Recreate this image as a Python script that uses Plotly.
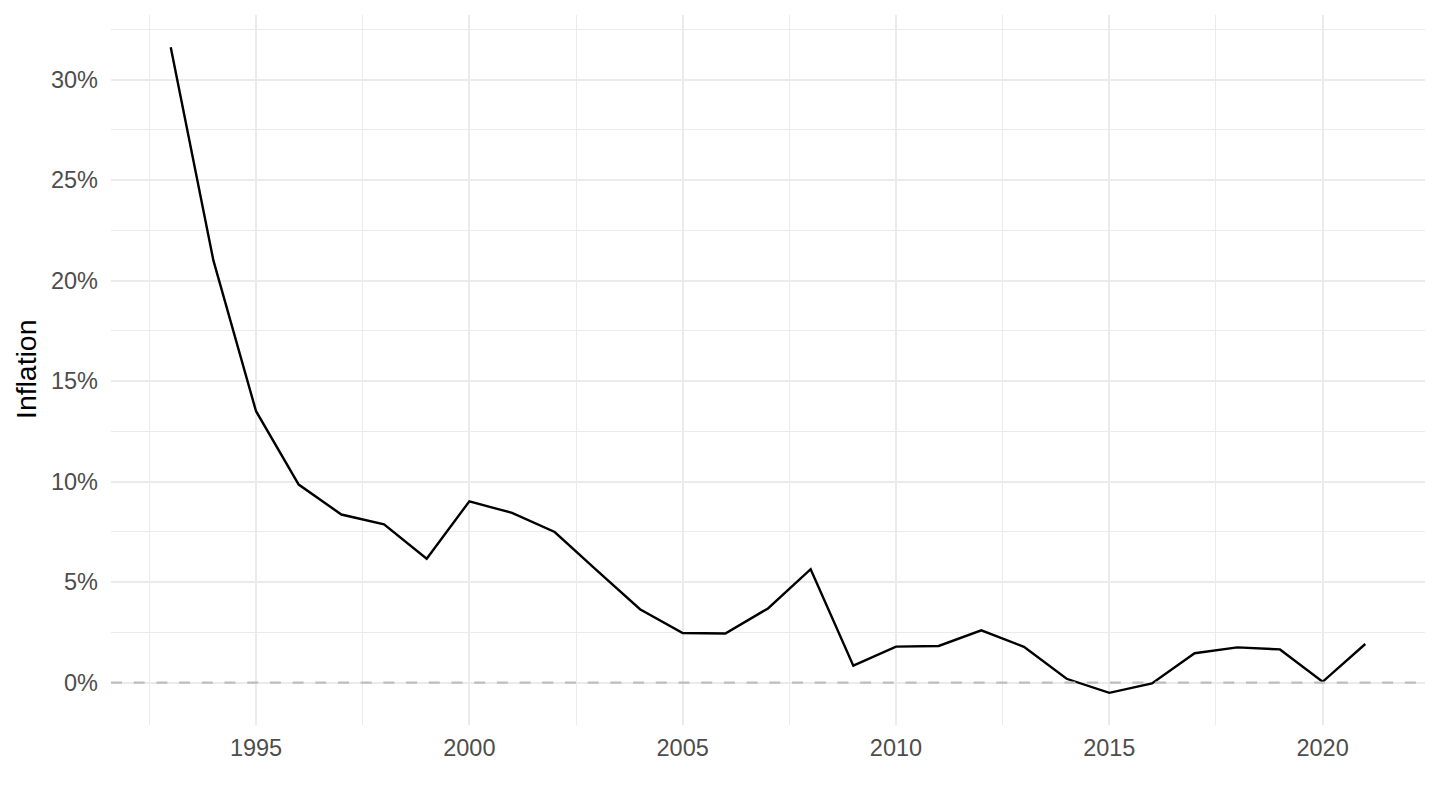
import plotly.graph_objects as go

years = list(range(1993, 2022))
inflation = [31.6, 21.0, 13.5, 9.85, 8.36, 7.87, 6.16, 9.02, 8.44, 7.49,
             5.56, 3.65, 2.47, 2.44, 3.69, 5.64, 0.84, 1.79, 1.82, 2.60,
             1.78, 0.19, -0.51, -0.04, 1.46, 1.75, 1.65, 0.04, 1.92]

y_ticks = [0, 5, 10, 15, 20, 25, 30]
y_tick_labels = [f"{v}%" for v in y_ticks]
x_ticks = [1995, 2000, 2005, 2010, 2015, 2020]
x_tick_labels = [str(v) for v in x_ticks]

FONT = "Liberation Sans, Arial, Helvetica, sans-serif"
GRID = "#EBEBEB"

fig = go.Figure()
fig.add_trace(go.Scatter(
    x=years, y=inflation, mode="lines",
    line=dict(color="black", width=2.4),
    showlegend=False, hoverinfo="x+y",
))

fig.add_hline(y=0, line=dict(color="#BEBEBE", width=2.2, dash="11px,11.7px"), layer="above")

fig.update_layout(
    width=1440, height=810,
    margin=dict(l=103, r=23, t=7, b=93, autoexpand=False),
    paper_bgcolor="white", plot_bgcolor="white",
    font=dict(family=FONT, color="#4D4D4D", size=23.5),
    xaxis=dict(
        range=[1991.6, 2022.4],
        tickmode="array", tickvals=x_ticks, ticktext=x_tick_labels,
        showgrid=True, gridcolor=GRID, gridwidth=2,
        minor=dict(tickmode="array", tickvals=[1992.5, 1997.5, 2002.5, 2007.5, 2012.5, 2017.5, 2022.5],
                   showgrid=True, gridcolor=GRID, gridwidth=1),
        zeroline=False, showline=False, ticks="",
        tickfont=dict(family=FONT, color="#4D4D4D", size=23.5),
        ticklabelstandoff=6,
    ),
    yaxis=dict(
        range=[-2.11, 33.21],
        tickmode="array", tickvals=y_ticks, ticktext=y_tick_labels,
        showgrid=True, gridcolor=GRID, gridwidth=2,
        minor=dict(tickmode="array", tickvals=[-2.5, 2.5, 7.5, 12.5, 17.5, 22.5, 27.5, 32.5],
                   showgrid=True, gridcolor=GRID, gridwidth=1),
        zeroline=False, showline=False, ticks="",
        tickfont=dict(family=FONT, color="#4D4D4D", size=23.5),
        ticklabelstandoff=12,
    ),
    annotations=[dict(
        text="Inflation", xref="paper", yref="paper",
        x=-85 / 1314, y=0.5, xanchor="center", yanchor="middle",
        textangle=-90, showarrow=False,
        font=dict(family=FONT, color="black", size=28.4),
    )],
)

fig.write_html("out.html")
